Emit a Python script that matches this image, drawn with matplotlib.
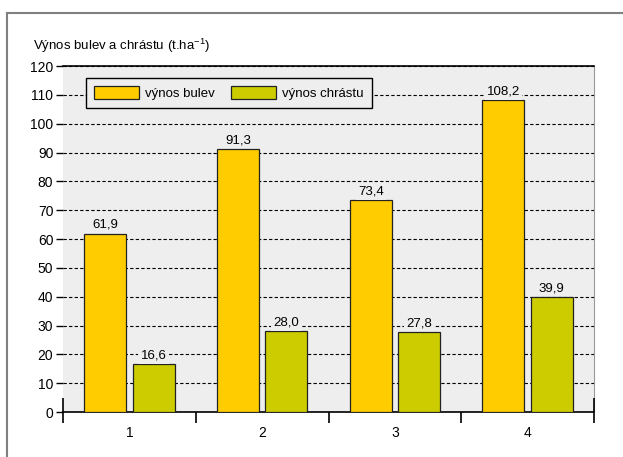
import numpy as np
import matplotlib.pyplot as plt
from matplotlib.lines import Line2D

plt.rcParams['font.family'] = ['Liberation Sans Narrow', 'Liberation Sans', 'DejaVu Sans']

# data
categories = ['1', '2', '3', '4']
bulvy = [61.9, 91.3, 73.4, 108.2]
chrast = [16.6, 28.0, 27.8, 39.9]
series_names = ['výnos bulev', 'výnos chrástu']
yticks = list(range(0, 121, 10))

bg = '#edeeed'
c_bulvy = '#ffcc00'
c_chrast = '#cccc00'

fig = plt.figure(figsize=(6.23, 4.57), dpi=100)
ax = fig.add_axes([63 / 623, 1 - 412 / 457, (594 - 63) / 623, (412 - 66) / 457])
ax.set_facecolor(bg)

x = np.arange(1, len(categories) + 1)
w = 0.316
off = 0.182
b1 = ax.bar(x - off, bulvy, w, color=c_bulvy, edgecolor='#222222', linewidth=0.9, zorder=3, label=series_names[0])
b2 = ax.bar(x + off, chrast, w, color=c_chrast, edgecolor='#222222', linewidth=0.9, zorder=3, label=series_names[1])

for bars, vals in ((b1, bulvy), (b2, chrast)):
    for r, v in zip(bars, vals):
        ax.text(r.get_x() + r.get_width() / 2, v + 0.9, f'{v:.1f}'.replace('.', ','),
                ha='center', va='bottom', fontsize=9.5, zorder=4,
                bbox=dict(facecolor=bg, edgecolor='none', pad=1.5))

ax.set_xlim(0.5, 4.5)
ax.set_ylim(0, 120)
ax.set_yticks(yticks)
ax.yaxis.grid(True, color='black', linestyle=(0, (3, 2)), linewidth=0.8, zorder=1)
ax.set_axisbelow(True)
ax.tick_params(axis='y', length=5, width=1, labelsize=10, pad=2, color='black')

ax.set_xticks(np.arange(0.5, 4.6, 1))
ax.set_xticklabels([])
ax.set_xticks(x, minor=True)
ax.set_xticklabels(categories, minor=True)
ax.tick_params(axis='x', which='major', length=8, width=1.2, direction='out')
ax.tick_params(axis='x', which='minor', length=0, labelsize=10, pad=10)

ax.spines['left'].set_visible(False)
ax.spines['right'].set_color('#999999')
ax.spines['top'].set_linewidth(1.2)
ax.spines['bottom'].set_linewidth(1.2)
ax.vlines([0.5, 4.5], 0, 5, colors='black', linewidth=1.2, zorder=5, clip_on=False)

leg = ax.legend(loc='upper left', bbox_to_anchor=((86 - 63) / 531, (412 - 78) / 346), ncol=2,
                frameon=True, borderaxespad=0,
                fancybox=False, edgecolor='black', facecolor=bg, framealpha=1,
                fontsize=9.5, handlelength=3.4, handleheight=1.1, columnspacing=1.2,
                borderpad=0.6, handletextpad=0.5)
leg.get_frame().set_linewidth(1.0)

fig.text(33 / 623, 1 - 46 / 457, 'Výnos bulev a chrástu (t.ha$^{\\mathregular{-1}}$)',
         ha='left', va='center', fontsize=9.5)

# outer frame
fig.add_artist(Line2D([7 / 623, 1], [1 - 13 / 457, 1 - 13 / 457], color='#808080', linewidth=1.5))
fig.add_artist(Line2D([7 / 623, 7 / 623], [0, 1 - 13 / 457], color='#808080', linewidth=1.5))

fig.savefig('out.png', dpi=100)
